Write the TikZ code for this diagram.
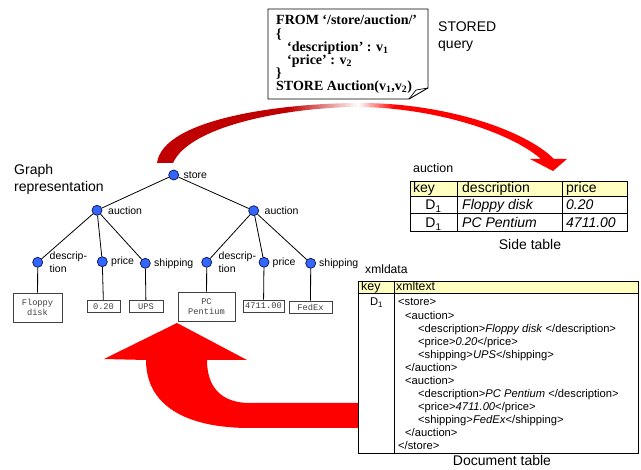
\documentclass[tikz,border=0pt]{standalone}
\usepackage{fontspec}
\setmainfont{Liberation Serif}
\setsansfont{Liberation Sans}
\setmonofont{Liberation Mono}
\definecolor{hdr}{RGB}{255,255,192}
\definecolor{dotblue}{RGB}{51,102,255}
\definecolor{dotedge}{RGB}{20,30,90}
\definecolor{arcdark}{RGB}{192,0,0}
\definecolor{leafgray}{RGB}{64,64,64}
% dark red on the left, a short white gleam at the top, bright red on the right
\pgfdeclarehorizontalshading{arcshade}{100bp}{color(0bp)=(arcdark); color(41bp)=(arcdark);
  color(49.5bp)=(white); color(54bp)=(red); color(100bp)=(red)}
\begin{document}
\begin{tikzpicture}[x=1pt,y=-1pt,
  txt/.style={inner sep=0pt,anchor=base west,font=\sffamily\fontsize{14}{16}\selectfont},
  qline/.style={inner sep=0pt,anchor=base west,font=\bfseries\fontsize{14}{16}\selectfont},
  glabel/.style={inner sep=0pt,anchor=west,font=\sffamily\fontsize{10.5}{12}\selectfont},
  gnode/.style={circle,inner sep=0pt,minimum size=10pt,fill=dotblue,draw=dotedge,line width=0.8pt},
  leaf/.style={draw=leafgray,line width=0.9pt,inner sep=0pt,align=center,text=leafgray,
    font=\ttfamily\fontsize{8.7}{10.6}\selectfont},
  edge/.style={line width=0.8pt},
  cell/.style={inner sep=0pt,anchor=base west,font=\sffamily\fontsize{14}{16}\selectfont},
  xcell/.style={inner sep=0pt,anchor=base west,font=\sffamily\fontsize{11.2}{13}\selectfont},
  tline/.style={line width=0.8pt}]
\useasboundingbox (0,0) rectangle (641,470);

% curved arrow from the query to the side table
\shade[shading=arcshade]
  (157,163) .. controls (163,118) and (285,103) .. (360,103)
  .. controls (445,103) and (525,130) .. (554,159)
  -- (567,159) -- (553,171) -- (530,159) -- (541,159)
  .. controls (510,132) and (435,108) .. (360,107)
  .. controls (290,107) and (190,125) .. (173,163) -- cycle;

% stored query (folded note)
\draw[line width=0.9pt,fill=white] (268,9) -- (428,9) -- (428,88) -- (409,99) -- (268,99) -- cycle;
\draw[line width=0.7pt] (409,99) .. controls (412,94) .. (416,90) -- (428,88);
\node[qline] (q1) at (276,25) {FROM ‘/store/auction/’};
\node[qline] (q2) at (276,38.1) {\{};
\node[qline] (q3) at (287,51.3) {‘description’ : v\textsubscript{1}};
\node[qline] (q4) at (287,64.4) {‘price’ : v\textsubscript{2}};
\node[qline] (q5) at (276,77.5) {\}};
\node[qline] (q6) at (276,90.7) {STORE Auction(v\textsubscript{1},v\textsubscript{2})};
\node[txt] (stored) at (438,31.5) {STORED};
\node[txt] (query) at (438,49) {query};

% graph representation
\node[txt] (g1) at (14,175) {Graph};
\node[txt] (g2) at (14,191.5) {representation};

\node[gnode] (store) at (173.7,175) {};
\node[gnode] (aucL) at (97,210.3) {};
\node[gnode] (aucR) at (253.7,210.7) {};
\node[gnode] (descL) at (37.7,262.3) {};
\node[gnode] (priceL) at (102.3,261.7) {};
\node[gnode] (shipL) at (145.3,263.3) {};
\node[gnode] (descR) at (206.7,262.3) {};
\node[gnode] (priceR) at (264,262.3) {};
\node[gnode] (shipR) at (310.7,263.3) {};

\node[glabel] (lstore) at (183.5,175) {store};
\node[glabel] (laucL) at (108,210.3) {auction};
\node[glabel] (laucR) at (264.5,211) {auction};
\node[glabel] (ldescL1) at (49.5,256.7) {descrip-};
\node[glabel] (ldescL2) at (49.5,269) {tion};
\node[glabel] (lpriceL) at (111,262) {price};
\node[glabel] (lshipL) at (154,263.3) {shipping};
\node[glabel] (ldescR1) at (218.5,256.7) {descrip-};
\node[glabel] (ldescR2) at (218.5,269) {tion};
\node[glabel] (lpriceR) at (272.5,262.3) {price};
\node[glabel] (lshipR) at (319,264) {shipping};

\node[leaf,minimum width=49pt,minimum height=29pt] (bfloppy) at (37.5,307.5) {Floppy\\disk};
\node[leaf,minimum width=33pt,minimum height=12pt] (b020) at (103.5,306.3) {0.20};
\node[leaf,minimum width=34pt,minimum height=12pt] (bups) at (146,306.5) {UPS};
\node[leaf,minimum width=57pt,minimum height=29pt] (bpc) at (206.5,306.5) {PC\\Pentium};
\node[leaf,minimum width=41pt,minimum height=12pt] (b4711) at (263.5,306) {4711.00};
\node[leaf,minimum width=43pt,minimum height=12pt] (bfedex) at (310.5,307) {FedEx};

\draw[edge] (store) -- (aucL);
\draw[edge] (store) -- (aucR);
\draw[edge] (aucL) -- (descL);
\draw[edge] (aucL) -- (priceL);
\draw[edge] (aucL) -- (shipL);
\draw[edge] (aucR) -- (descR);
\draw[edge] (aucR) -- (priceR);
\draw[edge] (aucR) -- (shipR);
\draw[edge] (descL) -- (bfloppy);
\draw[edge] (priceL) -- (b020);
\draw[edge] (shipL) -- (bups);
\draw[edge] (descR) -- (bpc);
\draw[edge] (priceR) -- (b4711);
\draw[edge] (shipR) -- (bfedex);

% side table
\node[txt,font=\sffamily\fontsize{12.4}{14}\selectfont] (stname) at (413,172.3) {auction};
\fill[hdr] (410,181) rectangle (627,196);
\draw[tline] (410,181) rectangle (627,231);
\draw[tline] (410,196) -- (627,196);
\draw[tline] (410,213) -- (627,213);
\draw[tline] (457,181) -- (457,231);
\draw[tline] (562,181) -- (562,231);
\node[cell] (sk) at (413,193) {key};
\node[cell] (sd) at (462,193) {description};
\node[cell] (sp) at (566,193) {price};
\node[cell,anchor=base] (sk1) at (433.5,210) {D\textsubscript{1}};
\node[cell] (sd1) at (462,210) {\itshape Floppy disk};
\node[cell] (sp1) at (566,210) {\itshape 0.20};
\node[cell,anchor=base] (sk2) at (433.5,228) {D\textsubscript{1}};
\node[cell] (sd2) at (462,228) {\itshape PC Pentium};
\node[cell] (sp2) at (566,228) {\itshape 4711.00};
\node[txt,anchor=base] (sidecap) at (530,250) {Side table};

% arrow from the document table back to the graph
\fill[red] (146,360) -- (104,359) -- (177,323) -- (247,360) -- (207,360)
  .. controls (207,388) and (222,403) .. (250,403) -- (358,403) -- (358,428) -- (250,428)
  .. controls (185,428) and (146,405) .. (146,360) -- cycle;

% document table
\node[txt,font=\sffamily\fontsize{12.1}{14}\selectfont] (dtname) at (365,273.3) {xmldata};
\fill[white] (358,281) rectangle (638,453);
\fill[hdr] (358,281) rectangle (638,293);
\draw[tline] (358,281) rectangle (638,453);
\draw[tline] (358,293) -- (638,293);
\draw[tline] (394,281) -- (394,453);
\node[xcell,font=\sffamily\fontsize{12.5}{14}\selectfont] (dk) at (361,291) {key};
\node[xcell,font=\sffamily\fontsize{12.3}{14}\selectfont] (dx) at (396,291) {xmltext};
\node[xcell,anchor=base] (dk1) at (376.5,306) {D\textsubscript{1}};
\node[xcell] (x1) at (398,306) {<store>};
\node[xcell] (x2) at (405,319.1) {<auction>};
\node[xcell] (x3) at (418,332.2) {<description>\textit{Floppy disk} </description>};
\node[xcell] (x4) at (418,345.3) {<price>\textit{0.20}</price>};
\node[xcell] (x5) at (418,358.4) {<shipping>\textit{UPS}</shipping>};
\node[xcell] (x6) at (405,371.5) {</auction>};
\node[xcell] (x7) at (405,384.6) {<auction>};
\node[xcell] (x8) at (418,397.7) {<description>\textit{PC Pentium} </description>};
\node[xcell] (x9) at (418,410.8) {<price>\textit{4711.00}</price>};
\node[xcell] (x10) at (418,423.9) {<shipping>\textit{FedEx}</shipping>};
\node[xcell] (x11) at (405,437) {</auction>};
\node[xcell] (x12) at (398,450) {</store>};
\node[txt,anchor=base] (doccap) at (502,466) {Document table};
\end{tikzpicture}
\end{document}
